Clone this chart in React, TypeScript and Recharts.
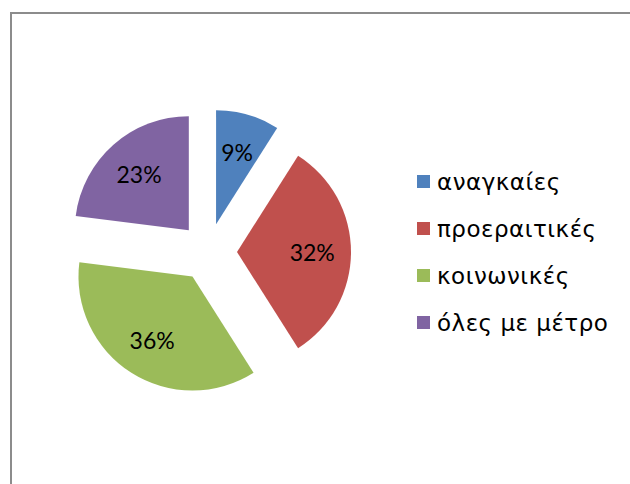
import React from "react";
import { PieChart, Pie, Sector, Legend } from "recharts";

const categories = ["αναγκαίες", "προεραιτικές", "κοινωνικές", "όλες με μέτρο"];
const values = [9, 32, 36, 23];
const colors = ["#4f81bd", "#c0504d", "#9bbb59", "#8064a2"];

const data = categories.map((name, i) => ({ name, value: values[i] }));

const RAD = Math.PI / 180;
const EXPLODE = 29;

// each sector is drawn shifted out along its mid angle (exploded pie)
function ExplodedSlice(props: any) {
  const { cx, cy, midAngle, innerRadius, outerRadius, startAngle, endAngle, index, percent } = props;
  const dx = Math.cos(-midAngle * RAD) * EXPLODE;
  const dy = Math.sin(-midAngle * RAD) * EXPLODE;
  const lr = outerRadius * 0.66;
  const lx = cx + dx + Math.cos(-midAngle * RAD) * lr;
  const ly = cy + dy + Math.sin(-midAngle * RAD) * lr;
  return (
    <g>
      <Sector
        cx={cx + dx}
        cy={cy + dy}
        innerRadius={innerRadius}
        outerRadius={outerRadius}
        startAngle={startAngle}
        endAngle={endAngle}
        fill={colors[index]}
        stroke="none"
      />
      <text
        x={lx}
        y={ly}
        textAnchor="middle"
        dominantBaseline="central"
        fill="#000"
        fontSize={23}
        fontFamily="Lato, sans-serif"
      >
        {Math.round(percent * 100) + "%"}
      </text>
    </g>
  );
}

function LegendBox() {
  return (
    <div style={{ fontFamily: "'DejaVu Sans', sans-serif", fontSize: 23, letterSpacing: 0.5, color: "#000" }}>
      {categories.map((c, i) => (
        <div key={c} style={{ display: "flex", alignItems: "center", height: 47 }}>
          <span style={{ width: 13, height: 13, background: colors[i], marginRight: 7, display: "inline-block" }} />
          <span>{c}</span>
        </div>
      ))}
    </div>
  );
}

export default function App() {
  return (
    <div style={{ position: "absolute", left: 0, top: 0, width: 630, height: 484, overflow: "hidden", background: "#fff" }}>
      <div
        style={{
          position: "absolute",
          left: 10,
          top: 12,
          width: 640,
          height: 500,
          border: "2px solid #8c8c8c",
        }}
      />
      <PieChart width={630} height={484} style={{ position: "absolute", left: 0, top: 0 }}>
        <Pie
          data={data}
          dataKey="value"
          nameKey="name"
          cx={203}
          cy={247}
          outerRadius={114}
          startAngle={90}
          endAngle={-270}
          fill="transparent"
          stroke="none"
          label={ExplodedSlice}
          labelLine={false}
          isAnimationActive={false}
        />
        <Legend
          layout="vertical"
          align="right"
          verticalAlign="top"
          content={() => <LegendBox />}
          wrapperStyle={{ left: 417, top: 158, width: 212 }}
        />
      </PieChart>
    </div>
  );
}
